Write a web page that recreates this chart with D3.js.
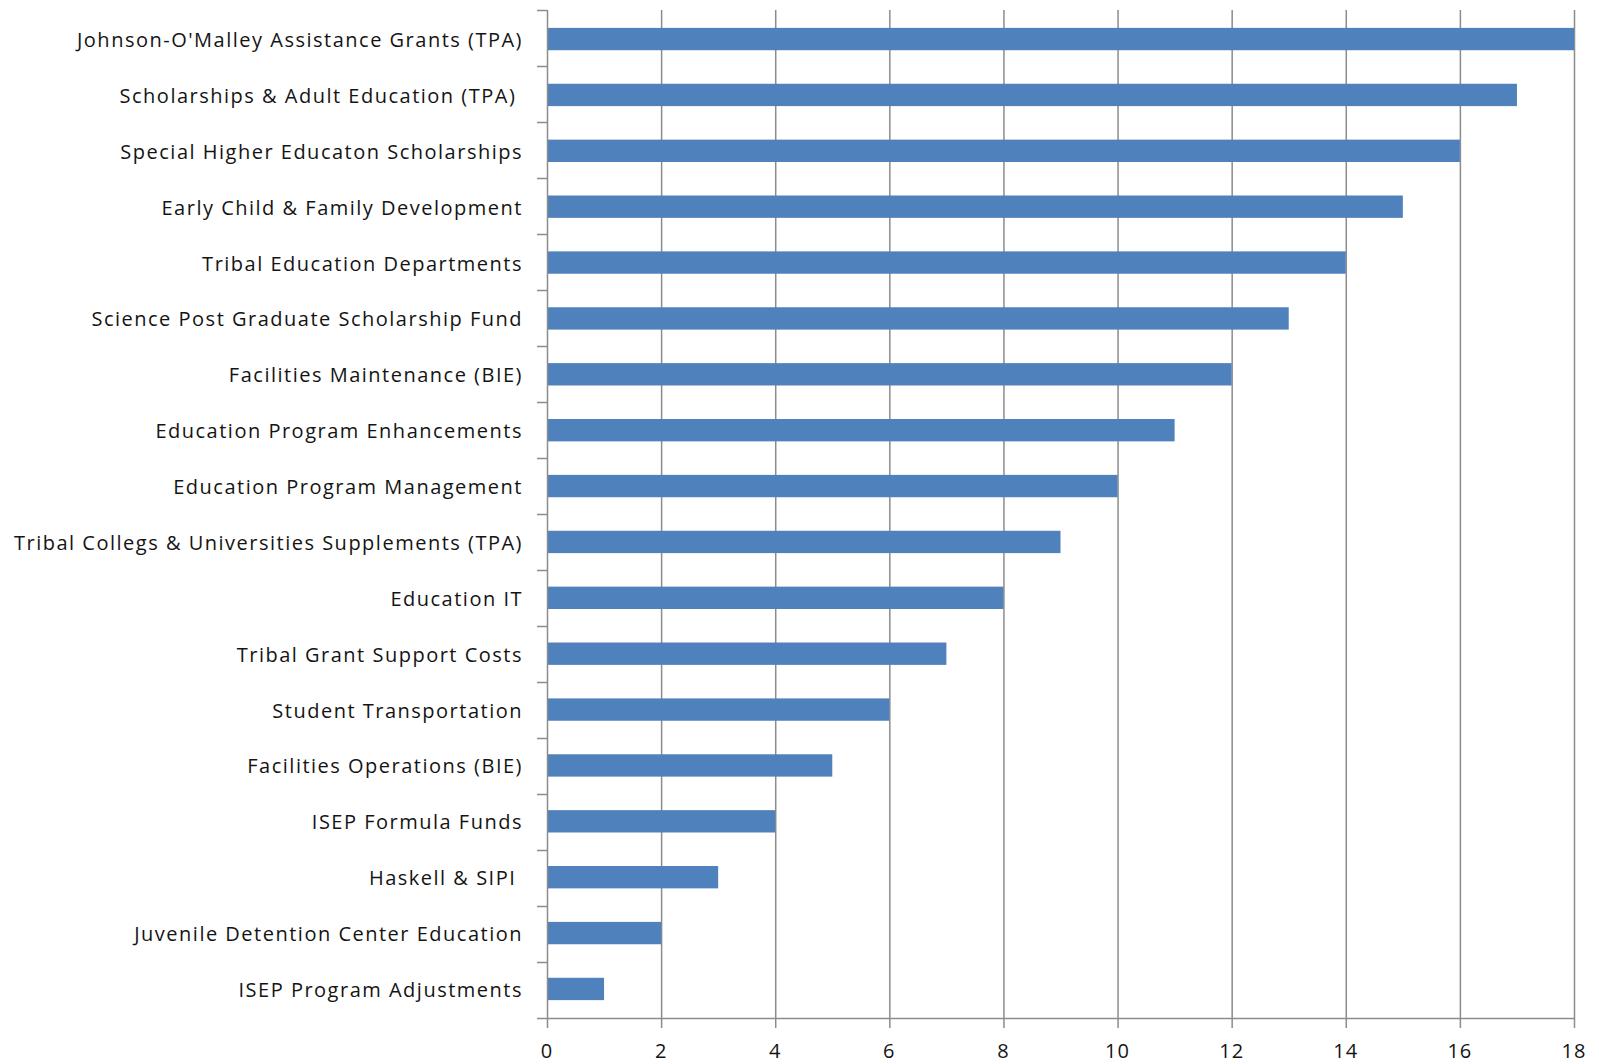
<!DOCTYPE html>
<html>
<head>
<meta charset="utf-8">
<script src="https://cdn.jsdelivr.net/npm/d3@7"></script>
<style>
  body { margin: 0; background: #fff; }
  text { font-family: "Open Sans", sans-serif; fill: #141414; white-space: pre; }
</style>
</head>
<body>
<div id="chart"></div>
<script>
'use strict';

// categories, top to bottom
const categories = [
  "Johnson-O'Malley Assistance Grants (TPA)",
  "Scholarships & Adult Education (TPA) ",
  "Special Higher Educaton Scholarships",
  "Early Child & Family Development",
  "Tribal Education Departments",
  "Science Post Graduate Scholarship Fund",
  "Facilities Maintenance (BIE)",
  "Education Program Enhancements",
  "Education Program Management",
  "Tribal Collegs & Universities Supplements (TPA)",
  "Education IT",
  "Tribal Grant Support Costs",
  "Student Transportation",
  "Facilities Operations (BIE)",
  "ISEP Formula Funds",
  "Haskell & SIPI ",
  "Juvenile Detention Center Education",
  "ISEP Program Adjustments"
];

const values = [18, 17, 16, 15, 14, 13, 12, 11, 10, 9, 8, 7, 6, 5, 4, 3, 2, 1];

const xTicks = [0, 2, 4, 6, 8, 10, 12, 14, 16, 18];

const width = 1599;
const height = 1064;
const margin = {top: 10, right: 25, bottom: 46, left: 547};

const svg = d3.select("#chart").append("svg")
  .attr("width", width)
  .attr("height", height);

const x = d3.scaleLinear()
  .domain([0, 18])
  .range([margin.left, width - margin.right]);

const y = d3.scaleBand()
  .domain(categories)
  .range([margin.top, height - margin.bottom])
  .paddingInner(0.6)
  .paddingOuter(0.32);

const yEdge = d3.scaleLinear()
  .domain([0, categories.length])
  .range([margin.top, height - margin.bottom]);

const bottom = height - margin.bottom;

/* vertical gridlines */
svg.append("g")
  .selectAll("line")
  .data(xTicks.filter(d => d > 0))
  .enter().append("line")
  .attr("x1", d => x(d) + 0.5)
  .attr("x2", d => x(d) + 0.5)
  .attr("y1", margin.top)
  .attr("y2", bottom)
  .attr("stroke", "#8c8c8c")
  .attr("stroke-width", 1.5);

/* bars */
svg.append("g")
  .selectAll("rect")
  .data(categories)
  .enter().append("rect")
  .attr("x", x(0) + 1)
  .attr("y", d => y(d))
  .attr("width", (d, i) => x(values[i]) - x(0) - 1)
  .attr("height", y.bandwidth())
  .attr("fill", "#4f81bd");

/* x axis */
const xAxis = svg.append("g")
  .attr("transform", `translate(0,${bottom})`);

xAxis.append("line")
  .attr("x1", x(0) - 10)
  .attr("x2", x(18) + 0.5)
  .attr("y1", 0.5)
  .attr("y2", 0.5)
  .attr("stroke", "#8c8c8c")
  .attr("stroke-width", 1.5);

xAxis.selectAll("line.tick")
  .data(xTicks)
  .enter().append("line")
  .attr("class", "tick")
  .attr("x1", d => x(d) + 0.5)
  .attr("x2", d => x(d) + 0.5)
  .attr("y1", 0)
  .attr("y2", 10)
  .attr("stroke", "#8c8c8c")
  .attr("stroke-width", 1.5);

xAxis.selectAll("text")
  .data(xTicks)
  .enter().append("text")
  .attr("x", d => x(d))
  .attr("y", 33)
  .attr("dy", "0.35em")
  .attr("text-anchor", "middle")
  .attr("font-size", 20)
  .attr("letter-spacing", 1)
  .text(d => d);

/* y axis */
const yAxis = svg.append("g");

yAxis.append("line")
  .attr("x1", x(0) + 0.5)
  .attr("x2", x(0) + 0.5)
  .attr("y1", margin.top)
  .attr("y2", bottom)
  .attr("stroke", "#8c8c8c")
  .attr("stroke-width", 1.5);

yAxis.selectAll("line.tick")
  .data(d3.range(categories.length))
  .enter().append("line")
  .attr("class", "tick")
  .attr("x1", x(0) - 10)
  .attr("x2", x(0))
  .attr("y1", d => yEdge(d) + 0.5)
  .attr("y2", d => yEdge(d) + 0.5)
  .attr("stroke", "#8c8c8c")
  .attr("stroke-width", 1.5);

yAxis.selectAll("text")
  .data(categories)
  .enter().append("text")
  .attr("x", x(0) - 24)
  .attr("y", d => y(d) + y.bandwidth() / 2 + 1)
  .attr("dy", "0.35em")
  .attr("text-anchor", "end")
  .attr("font-size", 20)
  .attr("letter-spacing", 1.5)
  .text(d => d);
</script>
</body>
</html>
